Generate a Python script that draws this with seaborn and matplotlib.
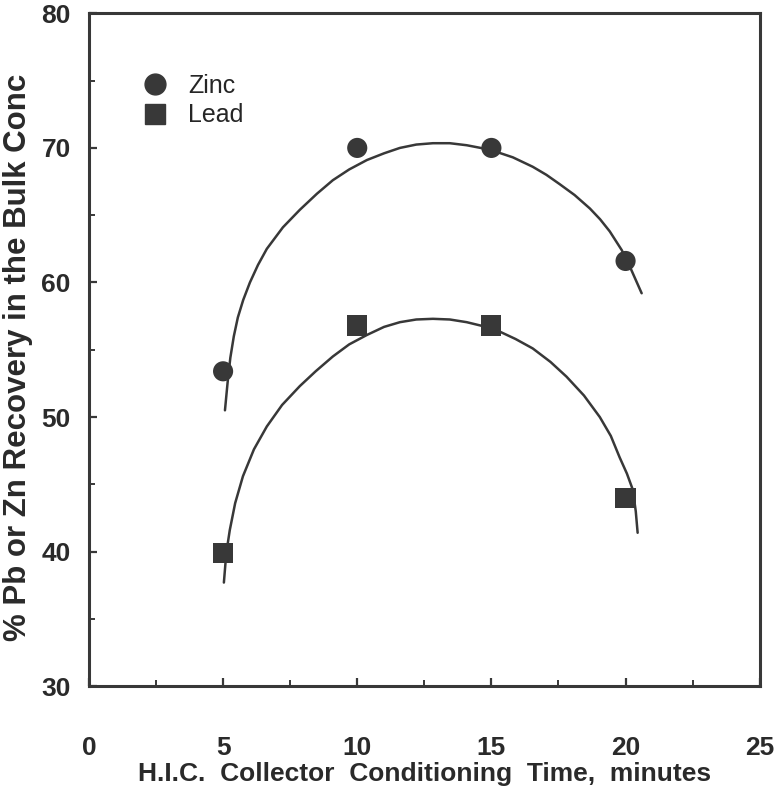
import numpy as np
import pandas as pd
import matplotlib
matplotlib.use("Agg")
import matplotlib.pyplot as plt
from matplotlib.lines import Line2D
import seaborn as sns

# measured points
time_min = [5, 10, 15, 20]
zinc_rec = [53.4, 70.0, 70.0, 61.6]
lead_rec = [39.9, 56.8, 56.8, 44.0]

# hand-drawn fitted curves
zinc_curve_x = [5.07, 5.17, 5.27, 5.4, 5.55, 5.75, 6.0, 6.3, 6.63, 7.23, 7.86,
                8.5, 9.09, 9.7, 10.36, 11.0, 11.59, 12.2, 12.82, 13.45, 14.08,
                14.6, 15.05, 15.8, 16.54, 17.05, 17.55, 18.1, 18.67, 19.05,
                19.41, 19.86, 20.2, 20.6]
zinc_curve_y = [50.5, 52.6, 54.4, 56.0, 57.4, 58.7, 60.0, 61.3, 62.5, 64.1, 65.4,
                66.6, 67.6, 68.4, 69.1, 69.6, 70.0, 70.25, 70.35, 70.35, 70.2,
                70.0, 69.8, 69.3, 68.6, 68.0, 67.3, 66.5, 65.5, 64.7,
                63.8, 62.4, 61.0, 59.2]
lead_curve_x = [5.03, 5.12, 5.25, 5.45, 5.74, 6.15, 6.63, 7.2, 7.86, 8.45, 9.09,
                9.7, 10.36, 11.0, 11.59, 12.2, 12.82, 13.45, 14.08, 14.7, 15.31,
                15.9, 16.54, 17.2, 17.8, 18.45, 19.04, 19.45, 19.78, 20.05,
                20.27, 20.38, 20.45]
lead_curve_y = [37.7, 39.9, 41.6, 43.6, 45.6, 47.6, 49.3, 50.9, 52.3, 53.4, 54.5,
                55.4, 56.1, 56.7, 57.05, 57.25, 57.3, 57.25, 57.05, 56.75, 56.35,
                55.8, 55.1, 54.1, 53.0, 51.6, 50.0, 48.6, 47.0, 45.8,
                44.6, 43.0, 41.4]

sns.set_style("ticks")
plt.rcParams["font.family"] = ["Liberation Sans", "DejaVu Sans"]

ink = "#383838"

pts = pd.DataFrame({
    "time": time_min * 2,
    "rec": zinc_rec + lead_rec,
    "metal": ["Zinc"] * 4 + ["Lead"] * 4,
})

fig = plt.figure(figsize=(7.8, 7.86), dpi=100)
ax = fig.add_axes([0.114, 0.127, 0.860, 0.856])

sns.lineplot(x=zinc_curve_x, y=zinc_curve_y, sort=False, estimator=None,
             color=ink, lw=1.8, ax=ax)
sns.lineplot(x=lead_curve_x, y=lead_curve_y, sort=False, estimator=None,
             color=ink, lw=1.8, ax=ax)
sns.scatterplot(data=pts, x="time", y="rec", hue="metal", style="metal",
                markers={"Zinc": "o", "Lead": "s"},
                palette={"Zinc": ink, "Lead": ink},
                s=210, edgecolor="none", legend=False, ax=ax, zorder=3)

ax.set_xlim(0, 25)
ax.set_ylim(30, 80)
ax.set_xticks([0, 5, 10, 15, 20, 25])
ax.set_yticks([30, 40, 50, 60, 70, 80])
ax.set_xticks(np.arange(2.5, 25, 5), minor=True)
ax.set_yticks(np.arange(35, 80, 10), minor=True)

for sp in ax.spines.values():
    sp.set_linewidth(2.2)
    sp.set_color(ink)
    sp.set_visible(True)

ax.tick_params(axis="both", which="both", direction="in", color=ink,
               top=False, right=False)
ax.tick_params(which="major", length=6, width=1.6)
ax.tick_params(which="minor", length=4, width=1.4)
ax.tick_params(axis="x", which="major", pad=36, labelsize=19)
ax.tick_params(axis="y", which="major", pad=13, labelsize=19)
for lab in ax.get_xticklabels() + ax.get_yticklabels():
    lab.set_fontweight("bold")
    lab.set_color("#2a2a2a")

ax.set_xlabel("H.I.C.  Collector  Conditioning  Time,  minutes",
              fontsize=19, fontweight="bold", color="#2a2a2a", va="center")
ax.xaxis.set_label_coords(0.5, -0.13)
ax.set_ylabel("% Pb or Zn Recovery in the Bulk Conc",
              fontsize=22.5, fontweight="bold", color="#2a2a2a", va="center")
ax.yaxis.set_label_coords(-0.106, 0.489)

handles = [
    Line2D([], [], marker="o", ls="none", color=ink, markersize=15),
    Line2D([], [], marker="s", ls="none", color=ink, markersize=14),
]
ax.legend(handles, ["Zinc", "Lead"], loc="upper left",
          bbox_to_anchor=(0.047, 0.925), frameon=False, fontsize=18,
          handletextpad=0.3, labelspacing=0.22, borderaxespad=0)

fig.savefig("out.png", dpi=100)
